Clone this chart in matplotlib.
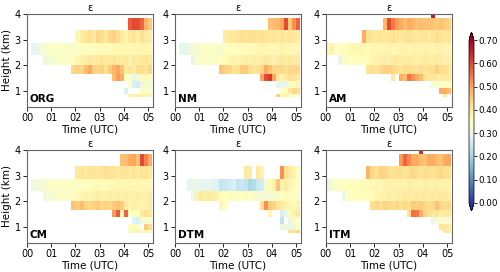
import numpy as np
import matplotlib.pyplot as plt

n = np.nan
NCOL = 31  # 10-min columns from 00 UTC


def row(start, vals):
    return [n] * start + vals + [n] * (NCOL - start - len(vals))


# height bands (km), bottom to top
height_edges = [0.78, 0.91, 1.11, 1.39, 1.67, 2.02, 2.41, 2.85, 3.35, 3.84, 4.05]
time_step = 1 / 6

panels = ["ORG", "NM", "AM", "CM", "DTM", "ITM"]

# each panel: rows from lowest band to highest
org = [
    row(25, [0.38, 0.38, 0.39, 0.38, 0.37, 0.38]),
    row(24, [0.27, n, n, n, 0.34, 0.35, 0.34]),
    row(25, [0.34, 0.27, 0.26, 0.31, 0.33, 0.32]),
    row(21, [0.47, 0.51, 0.49, 0.35, 0.34, 0.30, 0.32, 0.36, 0.37, 0.36]),
    row(11, [0.43, 0.44, 0.43, 0.47, 0.49, 0.44, 0.43, 0.44, 0.42, 0.45, 0.48, 0.50, 0.46, 0.40,
             0.41, 0.39, 0.42, 0.42, 0.41, 0.43]),
    row(4, [0.31, 0.32, 0.33, 0.34, 0.34, 0.34, 0.34, 0.35, 0.37, 0.38, 0.39, 0.40, 0.39, 0.40,
            0.41, 0.40, 0.40, 0.41, 0.40, 0.39, 0.40, 0.38, 0.40, 0.39, 0.40, 0.41, 0.40]),
    row(1, [0.29, 0.30, 0.32, 0.33, 0.34, 0.34, 0.34, 0.34, 0.34, 0.34, 0.33, 0.34, 0.35, 0.35,
            0.35, 0.36, 0.36, 0.36, 0.36, 0.36, 0.37, 0.37, 0.37, 0.37, 0.37, 0.37, 0.37, 0.37,
            0.37, 0.37]),
    row(12, [0.37, 0.39, 0.41, 0.42, 0.40, 0.43, 0.42, 0.40, 0.43, 0.44, 0.42, 0.40, 0.38, 0.40,
             0.41, 0.39, 0.42, 0.40, 0.39]),
    row(25, [0.58, 0.60, 0.60, 0.57, 0.48, 0.45]),
    row(0, []),
]

nm = [
    row(25, [0.44, 0.37, 0.39, 0.35, 0.34, 0.34]),
    row(26, [0.34, 0.35, 0.40, 0.43, 0.42]),
    row(25, [0.30, 0.29, 0.30, 0.34, 0.36, 0.37]),
    row(21, [0.50, 0.60, 0.62, 0.50, 0.40, 0.38, 0.40, 0.42, 0.41, 0.40]),
    row(11, [0.46, 0.44, 0.43, 0.41, 0.42, 0.45, 0.45, 0.42, 0.41, 0.42, 0.43, 0.49, 0.46, 0.43,
             0.43, 0.43, 0.42, 0.43, 0.43, 0.43]),
    row(4, [0.30, 0.33, 0.34, 0.34, 0.34, 0.34, 0.34, 0.35, 0.36, 0.37, 0.38, 0.37, 0.38, 0.39,
            0.38, 0.39, 0.38, 0.39, 0.40, 0.39, 0.38, 0.39, 0.40, 0.39, 0.40, 0.39, 0.40]),
    row(1, [0.30, 0.29, 0.31, 0.32, 0.33, 0.34, 0.34, 0.34, 0.34, 0.34, 0.33, 0.34, 0.35, 0.35,
            0.35, 0.36, 0.36, 0.36, 0.36, 0.37, 0.37, 0.37, 0.37, 0.37, 0.37, 0.38, 0.37, 0.37,
            0.37, 0.37]),
    row(12, [0.39, 0.40, 0.40, 0.41, 0.42, 0.41, 0.42, 0.42, 0.41, 0.42, 0.41, 0.40, 0.41, 0.40,
             0.41, 0.40, 0.41, 0.40, 0.40]),
    row(23, [0.46, 0.47, 0.48, 0.50, 0.60, 0.45, 0.52, 0.57]),
    row(0, []),
]

am = [
    row(29, [0.40]),
    row(28, [0.49, 0.49, 0.47]),
    row(26, [0.33, 0.33, 0.35, 0.35, 0.35]),
    row(16, [0.40, n, 0.49, 0.47, 0.55, 0.52, 0.49, 0.47, 0.42, 0.40, 0.41, 0.40, 0.39, 0.40, 0.40]),
    row(10, [0.41, 0.42, 0.41, 0.43, 0.44, 0.44, 0.43, 0.42, 0.41, 0.42, 0.42, 0.42, 0.41, 0.42,
             0.41, 0.42, 0.42, 0.44, 0.42, 0.42, 0.41]),
    row(3, [0.30, 0.34, 0.34, 0.35, 0.35, 0.35, 0.35, 0.36, 0.37, 0.38, 0.38, 0.39, 0.38, 0.39,
            0.40, 0.39, 0.39, 0.40, 0.39, 0.38, 0.39, 0.40, 0.39, 0.39, 0.40, 0.39, 0.38, 0.39]),
    row(0, [0.37, 0.38, 0.34, 0.35, 0.36, 0.36, 0.37, 0.37, 0.37, 0.37, 0.36, 0.37, 0.37, 0.37,
            0.37, 0.38, 0.37, 0.37, 0.38, 0.38, 0.37, 0.38, 0.38, 0.37, 0.38, 0.38, 0.37, 0.38,
            0.38, 0.37, 0.37]),
    row(9, [0.49, 0.42, 0.41, 0.40, 0.41, 0.40, 0.41, 0.42, 0.41, 0.40, 0.41, 0.42, 0.41, 0.40,
            0.41, 0.41, 0.40, 0.41, 0.42, 0.41, 0.40, 0.41]),
    row(14, [0.48, 0.60, 0.55, 0.51, 0.49, 0.47, 0.49, 0.48, 0.46, 0.47, 0.46, 0.46, 0.46, 0.45,
             0.46, 0.45, 0.44]),
    row(26, [0.66]),
]

cm = [
    row(25, [0.31, 0.37, 0.37, 0.37, 0.37, 0.37]),
    row(25, [0.35, 0.36, 0.35, n, 0.45, 0.42]),
    row(26, [0.28, 0.27, 0.32, 0.33, 0.34]),
    row(21, [0.51, 0.58, 0.37, 0.57, 0.35, 0.34, 0.36, 0.40, 0.42, 0.41]),
    row(11, [0.46, 0.45, 0.47, 0.44, 0.43, 0.44, 0.45, 0.43, 0.44, 0.43, 0.45, 0.46, 0.45, 0.40,
             0.38, 0.39, 0.38, 0.37, 0.38, 0.39]),
    row(4, [0.32, 0.32, 0.33, 0.34, 0.34, 0.34, 0.34, 0.35, 0.36, 0.37, 0.38, 0.37, 0.38, 0.39,
            0.38, 0.38, 0.39, 0.38, 0.39, 0.38, 0.39, 0.38, 0.38, 0.39, 0.38, 0.38, 0.39]),
    row(1, [0.31, 0.32, 0.32, 0.33, 0.34, 0.34, 0.34, 0.34, 0.34, 0.34, 0.34, 0.34, 0.35, 0.35,
            0.35, 0.36, 0.36, 0.36, 0.36, 0.36, 0.37, 0.37, 0.37, 0.37, 0.37, 0.37, 0.37, 0.37,
            0.37, 0.37]),
    row(12, [0.40, 0.41, 0.40, 0.41, 0.41, 0.40, 0.41, 0.42, 0.41, 0.41, 0.40, 0.41, 0.41, 0.40,
             0.41, 0.40, 0.41, 0.41, 0.40]),
    row(23, [0.46, 0.47, 0.49, 0.50, 0.46, 0.60, 0.54, 0.49]),
    row(0, []),
]

dtm = [
    row(28, [0.42, 0.42, 0.43]),
    row(26, [0.31, 0.31, 0.30, 0.31, 0.35]),
    row(26, [0.24, n, 0.30, 0.33, 0.35]),
    row(23, [0.37, n, n, 0.27, 0.30, 0.34, 0.38, 0.40]),
    row(11, [0.37, 0.35, n, n, n, n, n, n, n, n, 0.42, 0.52, 0.45, 0.44, 0.41, 0.40, 0.38, 0.37,
             0.36, 0.38]),
    row(4, [0.31, 0.38, 0.40, 0.39, 0.40, 0.39, 0.38, 0.36, 0.35, 0.36, 0.35, 0.34, 0.35, 0.34,
            0.35, 0.34, 0.33, 0.32, 0.33, 0.32, 0.33, 0.34, 0.35, 0.36, 0.35, 0.35, 0.34]),
    row(3, [0.29, 0.30, 0.30, 0.29, 0.29, 0.30, 0.28, 0.28, 0.24, 0.25, 0.26, 0.27, 0.24, 0.25,
            0.24, 0.21, 0.22, 0.25, 0.26, 0.33, 0.36, 0.38, 0.46, 0.38, 0.39, 0.37, 0.36, 0.35]),
    row(17, [0.40, 0.39, n, 0.40, 0.38, n, n, n, n, 0.52, 0.42, 0.40, 0.38, 0.36]),
    row(0, []),
    row(0, []),
]

itm = [
    row(29, [0.40, 0.40]),
    row(28, [0.41, 0.40, 0.39]),
    row(26, [0.30, 0.32, 0.33, 0.33, 0.33]),
    row(20, [0.42, 0.56, 0.55, 0.49, 0.44, 0.42, 0.40, 0.41, 0.39, 0.40, 0.40]),
    row(11, [0.42, 0.43, 0.42, 0.44, 0.43, 0.42, 0.43, 0.42, 0.43, 0.42, 0.45, 0.44, 0.45, 0.43,
             0.42, 0.43, 0.46, 0.43, 0.42, 0.43]),
    row(4, [0.30, 0.34, 0.35, 0.35, 0.35, 0.35, 0.36, 0.36, 0.37, 0.38, 0.38, 0.39, 0.38, 0.39,
            0.39, 0.40, 0.39, 0.39, 0.40, 0.39, 0.40, 0.39, 0.40, 0.39, 0.40, 0.40, 0.39]),
    row(0, [0.30, 0.33, 0.34, 0.34, 0.35, 0.35, 0.35, 0.35, 0.36, 0.36, 0.36, 0.37, 0.37, 0.37,
            0.38, 0.38, 0.38, 0.38, 0.38, 0.38, 0.39, 0.38, 0.38, 0.38, 0.39, 0.38, 0.38, 0.39,
            0.38, 0.38, 0.38]),
    row(10, [0.48, 0.43, 0.42, 0.44, 0.43, 0.42, 0.41, 0.42, 0.42, 0.41, 0.42, 0.43, 0.42, 0.41,
             0.42, 0.42, 0.41, 0.42, 0.43, 0.42, 0.42]),
    row(18, [0.51, 0.57, 0.53, 0.49, 0.49, 0.47, 0.46, 0.49, 0.49, 0.47, 0.46, 0.49, 0.50]),
    row(23, [0.63]),
]

data = [org, nm, am, cm, dtm, itm]
time_edges = np.arange(NCOL + 1) * time_step

fig = plt.figure(figsize=(5, 2.72), dpi=100)
lefts = [0.054, 0.350, 0.652]
bottoms = [0.607, 0.107]
w, h = 0.252, 0.343

for i, (name, eps) in enumerate(zip(panels, data)):
    ax = fig.add_axes([lefts[i % 3], bottoms[i // 3], w, h])
    mesh = ax.pcolormesh(time_edges, height_edges, np.array(eps), cmap="RdYlBu_r",
                         vmin=0, vmax=0.7)
    ax.set_xlim(0, 5.2)
    ax.set_ylim(0.4, 4)
    ax.set_xticks(range(6))
    ax.set_xticklabels(["00", "01", "02", "03", "04", "05"])
    ax.set_yticks([1, 2, 3, 4])
    ax.tick_params(labelsize=7, length=3, width=0.6, pad=1.5)
    for s in ax.spines.values():
        s.set_color("0.4")
        s.set_linewidth(0.8)
    ax.set_title("ε", fontsize=7, pad=2)
    ax.set_xlabel("Time (UTC)", fontsize=7.5, labelpad=1)
    if i % 3 == 0:
        ax.set_ylabel("Height (km)", fontsize=7.5, labelpad=2)
    ax.text(0.02, 0.03, name, transform=ax.transAxes, fontsize=7.5, fontweight="bold",
            va="bottom", ha="left")

cax = fig.add_axes([0.938, 0.224, 0.01, 0.658])
cb = fig.colorbar(mesh, cax=cax, extend="both", ticks=np.arange(0, 0.71, 0.1), format="%.2f")
cb.ax.tick_params(labelsize=6.3, length=2.5, width=0.6, pad=1)
cb.outline.set_linewidth(0.5)

fig.savefig("out.png", dpi=100)
